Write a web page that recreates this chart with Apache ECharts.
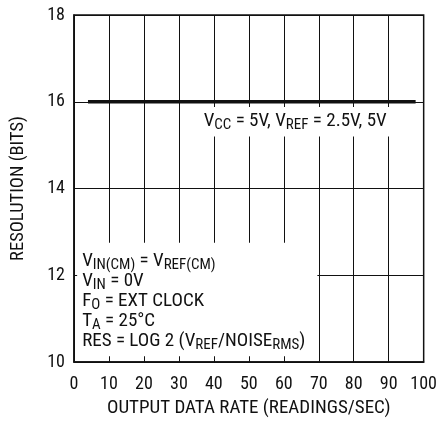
<!DOCTYPE html>
<html>
<head>
<meta charset="utf-8">
<script src="https://cdn.jsdelivr.net/npm/echarts@6/dist/echarts.min.js"></script>
<style>
  html, body { margin: 0; padding: 0; background: #fff; }
  #chart { width: 440px; height: 423px; }
</style>
</head>
<body>
<div id="chart"></div>
<script>
// data
var xTicks = [0, 10, 20, 30, 40, 50, 60, 70, 80, 90, 100];
var yTicks = [10, 12, 14, 16, 18];
var rateSpan = [4, 97.7];          // readings/sec, ends of the curve
var resolution = [16, 16];         // bits

var font = '"Roboto Condensed", "Liberation Sans", Arial, sans-serif';

var rich = {
    b: { fontSize: 19, lineHeight: 20, fontFamily: font, color: '#111' },
    // subscript: small box pinned to line bottom pushes it under the baseline
    s: { fontSize: 15, height: 12, lineHeight: 12, verticalAlign: 'bottom', fontFamily: font, color: '#111' }
};

var condText = [
    '{b|V}{s|IN(CM)}{b| = V}{s|REF(CM)}',
    '{b|V}{s|IN}{b| = 0V}',
    '{b|F}{s|O}{b| = EXT CLOCK}',
    '{b|T}{s|A}{b| = 25°C}',
    '{b|RES = LOG 2 (V}{s|REF}{b|/NOISE}{s|RMS}{b|)}'
].join('\n');

var vccText = '{b|V}{s|CC}{b| = 5V, V}{s|REF}{b| = 2.5V, 5V}';

var chart = echarts.init(document.getElementById('chart'));

var option = {
    animation: false,
    backgroundColor: '#fff',
    grid: {
        left: 74, right: 15, top: 15, bottom: 57,
        show: true, borderColor: '#111', borderWidth: 1.5, backgroundColor: 'transparent'
    },
    xAxis: {
        type: 'value', min: 0, max: 100, interval: 10,
        name: 'OUTPUT DATA RATE (READINGS/SEC)',
        nameLocation: 'middle', nameGap: 37,
        nameTextStyle: { fontSize: 19, fontFamily: font, color: '#111' },
        axisLine: { lineStyle: { color: '#111', width: 1.5 } },
        axisTick: { show: true, inside: true, length: 5, lineStyle: { color: '#111' } },
        axisLabel: { fontSize: 18, fontFamily: font, color: '#111', margin: 13 },
        splitLine: { show: true, lineStyle: { color: '#111', width: 1 } }
    },
    yAxis: {
        type: 'value', min: 10, max: 18, interval: 2,
        name: 'RESOLUTION (BITS)',
        nameLocation: 'middle', nameGap: 46,
        nameTextStyle: { fontSize: 18.5, fontFamily: font, color: '#111' },
        axisLine: { lineStyle: { color: '#111', width: 1.5 } },
        axisTick: { show: true, inside: true, length: 3, lineStyle: { color: '#111' } },
        axisLabel: { fontSize: 18, fontFamily: font, color: '#111', margin: 9 },
        splitLine: { show: true, lineStyle: { color: '#111', width: 1 } }
    },
    series: [{
        type: 'line',
        data: rateSpan.map(function (x, i) { return [x, resolution[i]]; }),
        symbol: 'none',
        lineStyle: { color: '#111', width: 3.5 },
        z: 5,
        markArea: {
            silent: true,
            itemStyle: { color: '#fff', borderWidth: 0 },
            data: [
                [{
                    coord: [0.9, 10.13],
                    label: { show: true, position: 'insideTopLeft', offset: [0, 4],
                             formatter: condText, rich: rich }
                }, { coord: [69.6, 12.75] }],
                [{
                    coord: [32.5, 15.2],
                    label: { show: true, position: 'insideLeft', offset: [11, 0],
                             formatter: vccText, rich: rich }
                }, { coord: [96, 15.88] }]
            ]
        }
    }]
};

chart.setOption(option);
</script>
</body>
</html>
